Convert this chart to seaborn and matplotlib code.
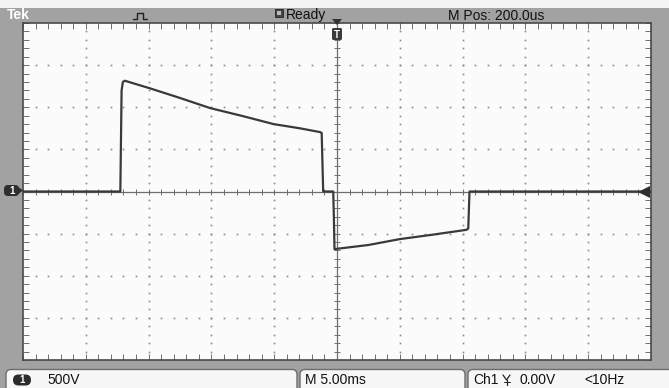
import numpy as np
import pandas as pd
import matplotlib
matplotlib.use("Agg")
import matplotlib.pyplot as plt
from matplotlib.patches import FancyBboxPatch, Rectangle, Polygon
import seaborn as sns

# Channel 1 trace, time relative to screen centre (ms) and amplitude (V)
time_ms = [-25.0, -17.25, -17.15, -17.05, -16.9, -14.9, -12.5, -10.1, -7.5,
           -5.05, -2.95, -1.35, -1.22, -1.1, -0.3, -0.25, -0.2, 0.0, 2.5,
           5.0, 7.5, 10.3, 10.45, 10.55, 25.0]
ch1_volts = [0, 0, 1200, 1300, 1315, 1225, 1110, 990, 895,
             800, 750, 705, 695, 0, 0, -300, -685, -680, -635,
             -565, -515, -455, -440, 0, 0]

ms_per_div = 5.0
volts_per_div = 500.0
h_divs, v_divs = 10, 8

header_left = "Tek"
header_state = "Ready"
header_pos = "M Pos: 200.0us"
ch_label = "1"
ch_scale = "500V"
time_scale = "M 5.00ms"
trig_source = "Ch1"
trig_level = "0.00V"
trig_freq = "<10Hz"

W, H = 669, 388
FRAME = "#a2a2a2"
TRACE = "#3a3a3a"
GRID = "#8a8a8a"

sns.set_style("white")
plt.rcParams["font.family"] = ["Liberation Sans", "DejaVu Sans"]

df = pd.DataFrame({"time_ms": time_ms, "volts": ch1_volts})

fig = plt.figure(figsize=(W / 100, H / 100), dpi=100, facecolor=FRAME)

# graticule area in pixel terms
gx0, gx1, gy0, gy1 = 23, 651, 23, 360
ax = fig.add_axes([gx0 / W, (H - gy1) / H, (gx1 - gx0) / W, (gy1 - gy0) / H])
ax.set_facecolor("#fbfbfb")

xmax = ms_per_div * h_divs / 2
ymax = volts_per_div * v_divs / 2
ax.set_xlim(-xmax, xmax)
ax.set_ylim(-ymax, ymax)

# dotted graticule lines, one dot per fifth of a division
x_fine = np.arange(-xmax, xmax + 1e-9, ms_per_div / 5)
y_fine = np.arange(-ymax, ymax + 1e-9, volts_per_div / 5)
for gx in np.arange(-xmax + ms_per_div, xmax, ms_per_div):
    if abs(gx) < 1e-9:
        continue
    ax.plot(np.full_like(y_fine, gx), y_fine, ls="none", marker="s",
            ms=1.2, color=GRID, mew=0, zorder=1)
for gy in np.arange(-ymax + volts_per_div, ymax, volts_per_div):
    if abs(gy) < 1e-9:
        continue
    ax.plot(x_fine, np.full_like(x_fine, gy), ls="none", marker="s",
            ms=1.2, color=GRID, mew=0, zorder=1)

# centre cross with tick marks
ax.axvline(0, color="#6e6e6e", lw=0.9, zorder=1)
ax.axhline(0, color="#6e6e6e", lw=0.9, zorder=1)
tx = 3 * (2 * xmax) / (gx1 - gx0)
ty = 3 * (2 * ymax) / (gy1 - gy0)
ax.hlines(y_fine, -tx, tx, color="#6e6e6e", lw=0.7, zorder=1)
ax.vlines(x_fine, -ty, ty, color="#6e6e6e", lw=0.7, zorder=1)

# edge ticks
ax.set_xticks(x_fine)
ax.set_yticks(y_fine)
ax.tick_params(axis="both", direction="in", length=4, width=0.7,
               color="#6e6e6e", top=True, right=True, bottom=True, left=True,
               labelbottom=False, labelleft=False)
for s in ax.spines.values():
    s.set_color("#4a4a4a")
    s.set_linewidth(1.2)

sns.lineplot(data=df, x="time_ms", y="volts", ax=ax, color=TRACE, lw=1.6,
             sort=False, estimator=None, zorder=3)
ax.set_xlabel("")
ax.set_ylabel("")

# trigger level arrow at the right edge
ax.plot([xmax - 0.55], [0], marker="<", ms=8, color="#2e2e2e", mew=0, zorder=4)

# overlay in pixel coordinates for the instrument chrome
ov = fig.add_axes([0, 0, 1, 1], zorder=5)
ov.set_xlim(0, W)
ov.set_ylim(H, 0)
ov.axis("off")
ov.patch.set_alpha(0)

ov.add_patch(Rectangle((0, 0), W, 8, color="#f3f3f3", lw=0))

ov.text(7, 15, header_left, color="white", fontsize=10, fontweight="bold",
        va="center", ha="left")
ov.plot([133, 137, 137, 143, 143, 147], [19, 19, 12.5, 12.5, 19, 19],
        color="#222222", lw=1.0)
ov.add_patch(Rectangle((275, 9), 8, 8, facecolor="#444444", edgecolor="#222222", lw=0.6))
ov.add_patch(Rectangle((277, 11), 4, 4, facecolor="#bbbbbb", lw=0))
ov.text(286, 15.5, header_state, color="#111111", fontsize=10, va="center", ha="left")
ov.text(448, 15.5, header_pos, color="#111111", fontsize=10, va="center", ha="left")

# trigger position marker at the top centre
ov.add_patch(Polygon([[332, 19], [342, 19], [337, 25]], closed=True,
                     facecolor="#333333", lw=0))
ov.add_patch(FancyBboxPatch((332, 28), 10, 12, boxstyle="round,pad=0,rounding_size=1.5",
                            facecolor="#3a3a3a", lw=0))
ov.text(337, 34.5, "T", color="white", fontsize=7, fontweight="bold",
        ha="center", va="center")

# channel 1 ground marker on the left
ov.add_patch(FancyBboxPatch((4, 185), 15, 11, boxstyle="round,pad=0,rounding_size=4",
                            facecolor="#2e2e2e", lw=0))
ov.add_patch(Polygon([[17, 186], [23, 190.5], [17, 195]], closed=True,
                     facecolor="#2e2e2e", lw=0))
ov.text(12, 190.8, ch_label, color="white", fontsize=7, fontweight="bold",
        ha="center", va="center")

# status line
for bx0, bx1 in [(6, 297), (300, 465), (468, 676)]:
    ov.add_patch(FancyBboxPatch((bx0, 369.5), bx1 - bx0, 24,
                                boxstyle="round,pad=0,rounding_size=5",
                                facecolor="#f7f7f7", edgecolor="#6e6e6e", lw=1.0))
ov.add_patch(FancyBboxPatch((13, 374.5), 18, 11, boxstyle="round,pad=0,rounding_size=5.5",
                            facecolor="#2c2c2c", lw=0))
ov.text(22, 380.3, ch_label, color="white", fontsize=7, fontweight="bold",
        ha="center", va="center")
ov.text(47, 380, ch_scale, color="#111111", fontsize=10, va="center", ha="left")
ov.text(305, 380, time_scale, color="#111111", fontsize=10, va="center", ha="left")
ov.text(473, 380, trig_source, color="#111111", fontsize=10, va="center", ha="left")
# rising-edge trigger slope icon
ov.plot([503, 506.5, 510], [375, 380, 375], color="#222222", lw=0.9)
ov.plot([506.5, 506.5], [380, 385], color="#222222", lw=0.9)
ov.plot([503.5, 509.5], [382, 382], color="#222222", lw=0.7)
ov.text(519, 380, trig_level, color="#111111", fontsize=10, va="center", ha="left")
ov.text(584, 380, trig_freq, color="#111111", fontsize=10, va="center", ha="left")

fig.savefig("out.png", dpi=100, facecolor=FRAME)
